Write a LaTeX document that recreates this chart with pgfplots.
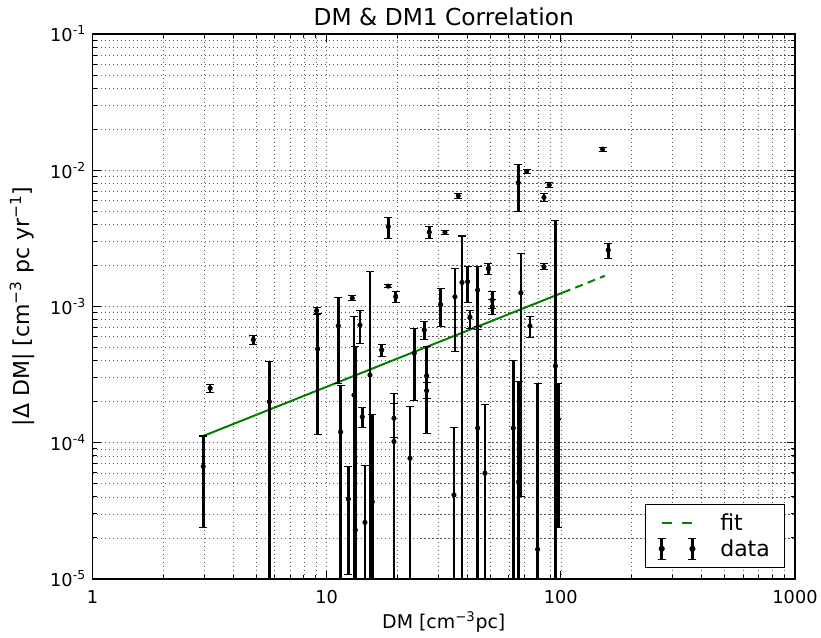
\documentclass[border=0pt]{standalone}
\usepackage{fontspec}
\setmainfont{DejaVu Sans}
\usepackage{pgfplots}
\pgfplotsset{compat=1.18}
\usepackage{pgfplotstable}
\definecolor{mplgreen}{rgb}{0,0.5,0}

\pgfplotstableread{
x y ep em
2.97 6.7e-5 4.5e-5 4.3e-5
3.18 2.51e-4 1.8e-5 1.8e-5
4.86 5.7e-4 4e-5 4e-5
5.69 2.0e-4 1.94e-4 1.98e-4
9.06 9.3e-4 5e-5 5e-5
9.15 4.88e-4 4.07e-4 3.74e-4
11.21 7.2e-4 4.5e-4 4.5e-4
11.47 1.2e-4 1.45e-4 1.19e-4
12.37 3.87e-5 2.8e-5 2.8e-5
12.86 1.15e-3 5e-5 5e-5
13.08 2.24e-4 6.16e-4 2.22e-4
13.25 2.29e-5 4.84e-4 2.27e-5
13.87 7.31e-4 2.1e-4 1.95e-4
14.19 1.55e-4 2.5e-5 2.5e-5
14.57 2.6e-5 4.2e-5 2.58e-5
15.31 3.14e-4 1.49e-3 3.11e-4
15.66 3.69e-5 1.23e-4 3.65e-5
17.17 4.8e-4 5e-5 5e-5
18.32 3.86e-3 6.2e-4 6.9e-4
18.32 1.41e-3 4e-5 4e-5
19.71 1.18e-3 1.1e-4 1.1e-4
19.38 1.51e-4 4.2e-5 4.2e-5
19.38 1.02e-4 1.27e-4 1.01e-4
22.68 7.69e-5 1.07e-4 7.6e-5
23.66 4.54e-4 2.4e-4 2.5e-4
26.11 6.73e-4 1.0e-4 1.0e-4
26.73 3.1e-4 1.97e-4 1.93e-4
26.73 2.41e-4 3.5e-5 2.9e-5
27.42 3.51e-3 3.4e-4 3.4e-4
32.0 3.5e-3 1e-4 1e-4
30.68 1.03e-3 3.3e-4 3.2e-4
36.47 6.5e-3 3e-4 3e-4
35.30 1.18e-3 7.2e-4 7.1e-4
34.96 4.14e-5 8.7e-5 4.1e-5
37.83 1.5e-3 1.79e-3 1.49e-3
40.0 1.52e-3 4.4e-4 4.5e-4
40.92 8.34e-4 1.0e-4 1.4e-4
44.13 1.32e-3 6.4e-4 6.4e-4
44.13 1.28e-4 5.8e-4 1.27e-4
47.42 5.97e-5 1.3e-4 5.9e-5
48.98 1.9e-3 1.7e-4 1.7e-4
50.94 1.12e-3 1.6e-4 1.6e-4
50.94 1.0e-3 1.2e-4 1.2e-4
62.64 1.28e-4 2.76e-4 1.27e-4
66.05 5.18e-5 2.28e-4 5.1e-5
65.79 8.1e-3 2.9e-3 3.1e-3
67.55 1.26e-3 1.2e-3 1.22e-3
71.45 9.77e-3 3e-4 3e-4
73.8 7.2e-4 1.3e-4 1.3e-4
79.6 1.65e-5 2.57e-4 1.63e-5
84.7 1.96e-3 1e-4 1e-4
84.7 6.32e-3 4e-4 4e-4
89.2 7.8e-3 3e-4 3e-4
94.8 3.66e-4 3.94e-3 3.62e-4
97.5 1.49e-4 1.24e-4 1.25e-4
150.8 1.43e-2 5e-4 5e-4
159.4 2.6e-3 3.2e-4 3.4e-4
}\dmdata

\begin{document}
\begin{tikzpicture}
\useasboundingbox (-69.4pt,-44.25pt) rectangle (546.4pt,434.25pt);
\begin{axis}[
  at={(0,0)}, anchor=south west,
  scale only axis, width=526.9pt, height=408.75pt,
  xmode=log, ymode=log,
  xmin=1, xmax=1000, ymin=1e-5, ymax=1e-1,
  font=\fontsize{13.3}{16}\selectfont,
  xtick={1,10,100,1000}, xticklabels={1,10,100,1000},
  ytick={1e-5,1e-4,1e-3,1e-2,1e-1},
  yticklabels={10\textsuperscript{-5},10\textsuperscript{-4},10\textsuperscript{-3},10\textsuperscript{-2},10\textsuperscript{-1}},
  grid=both,
  major grid style={black!65, line width=0.5pt, dash pattern=on 0.8pt off 2.2pt},
  minor grid style={black!65, line width=0.5pt, dash pattern=on 0.8pt off 2.2pt},
  axis line style={line width=1pt},
  every tick/.style={black, line width=0.75pt},
  major tick length=6pt, minor tick length=3pt,
  tick align=inside,
  xticklabel style={yshift=-5pt},
  yticklabel style={xshift=-1.5pt},
  every axis title shift=0pt,
  title={DM \& DM1 Correlation},
  title style={at={(axis description cs:0.5,1)}, anchor=base, yshift=6.5pt, font=\fontsize{17.5}{20}\selectfont},
  xlabel={DM [cm\textsuperscript{−3}pc]},
  xlabel style={at={(axis description cs:0.5,0)}, anchor=center, yshift=-32.5pt, font=\fontsize{14.2}{17}\selectfont},
  ylabel={|Δ DM| [cm\textsuperscript{−3} pc yr\textsuperscript{−1}]},
  ylabel style={at={(axis description cs:-0.1,0.5)}, anchor=center, font=\fontsize{16.5}{19}\selectfont},
  legend style={at={(axis description cs:1,0)}, anchor=south east, xshift=-7.5pt, yshift=8.25pt,
    draw=black, line width=0.75pt, font=\fontsize{16.5}{19}\selectfont,
    inner xsep=9pt, inner ysep=5pt, row sep=1pt, nodes={inner sep=2pt},
    /tikz/every odd column/.append style={column sep=15.5pt}},
  legend cell align=left,
]
\addplot[mplgreen, line width=1.5pt, forget plot] coordinates {(2.97,1.12e-4) (102,1.265e-3)};
\addplot[mplgreen, line width=1.5pt, dash pattern=on 6pt off 4pt,
  legend image code/.code={
    \draw[mplgreen, line width=1.5pt, solid] (0pt,0pt) -- (7.5pt,0pt);
    \draw[mplgreen, line width=1.5pt, solid] (15.5pt,0pt) -- (23pt,0pt);
  }] coordinates {(102,1.265e-3) (154.3,1.68e-3)};
\addlegendentry{fit}
\addplot[only marks, black, mark=*, mark size=1.7pt,
  legend image code/.code={
    \foreach \lx in {0pt,23pt}{
      \draw[black, line width=2pt] (\lx,-8pt) -- (\lx,8pt);
      \draw[black, line width=0.8pt] ([xshift=-3pt]\lx,8pt) -- ([xshift=3pt]\lx,8pt);
      \draw[black, line width=0.8pt] ([xshift=-3pt]\lx,-8pt) -- ([xshift=3pt]\lx,-8pt);
      \fill[black] (\lx,0pt) circle (1.9pt);
    }
  },
  error bars/.cd, y dir=both, y explicit,
  error bar style={line width=2pt, black},
  error mark options={black, line width=0.8pt, mark size=3pt, rotate=90},
  ] table[x=x, y=y, y error plus=ep, y error minus=em] {\dmdata};
\addlegendentry{data}
\end{axis}
\end{tikzpicture}
\end{document}
